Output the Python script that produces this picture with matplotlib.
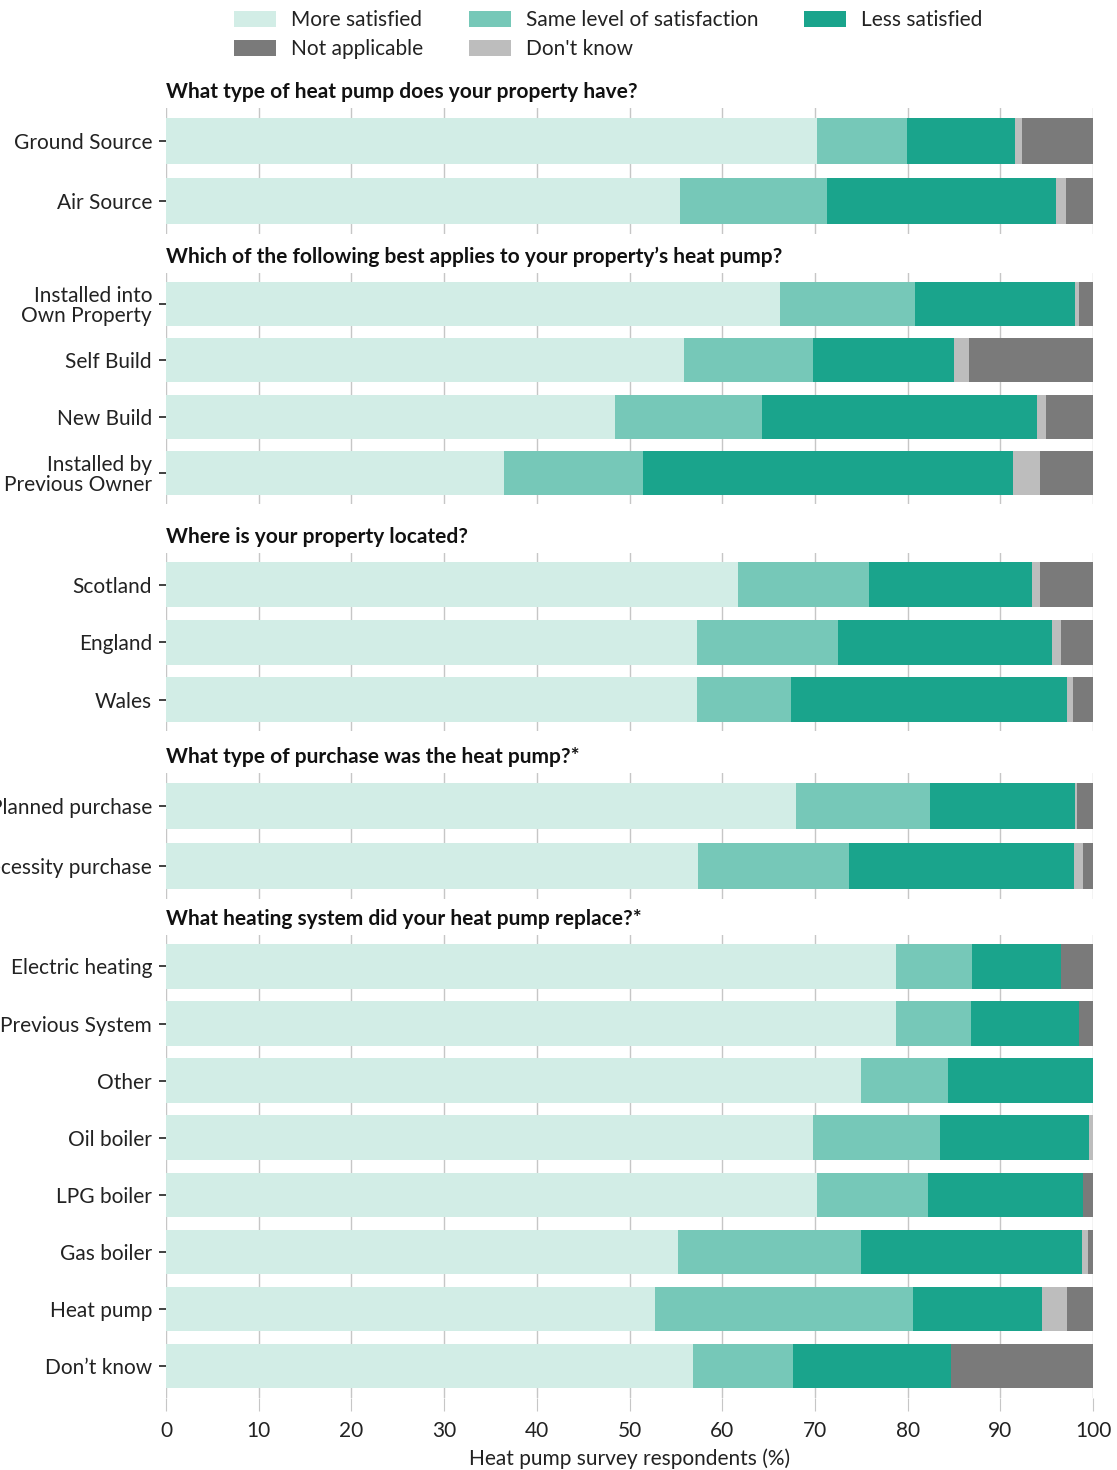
import matplotlib
matplotlib.use("Agg")
import matplotlib.pyplot as plt
from matplotlib.patches import Patch

plt.rcParams["font.family"] = ["Lato", "DejaVu Sans"]

# -------------------------------
# Data (% of respondents)
# -------------------------------
series = ["More satisfied", "Same level of satisfaction", "Less satisfied",
          "Don't know", "Not applicable"]
colors = {
    "More satisfied": "#d2ede6",
    "Same level of satisfaction": "#76c8b8",
    "Less satisfied": "#1aa48c",
    "Don't know": "#bdbdbd",
    "Not applicable": "#7a7a7a",
}

q1_title = "What type of heat pump does your property have?"
q1_labels = ["Ground Source", "Air Source"]
q1_more = [70.2, 55.4]
q1_same = [9.7, 15.9]
q1_less = [11.7, 24.7]
q1_dk = [0.7, 1.1]
q1_na = [7.7, 2.9]

q2_title = "Which of the following best applies to your property\u2019s heat pump?"
q2_labels = ["Installed into\nOwn Property", "Self Build", "New Build",
             "Installed by\nPrevious Owner"]
q2_more = [66.2, 55.9, 48.4, 36.5]
q2_same = [14.6, 13.9, 15.9, 15.0]
q2_less = [17.3, 15.2, 29.7, 39.9]
q2_dk = [0.4, 1.6, 0.9, 2.9]
q2_na = [1.5, 13.4, 5.1, 5.7]

q3_title = "Where is your property located?"
q3_labels = ["Scotland", "England", "Wales"]
q3_more = [61.7, 57.3, 57.3]
q3_same = [14.1, 15.2, 10.1]
q3_less = [17.6, 23.1, 29.8]
q3_dk = [0.9, 0.9, 0.6]
q3_na = [5.7, 3.5, 2.2]

q4_title = "What type of purchase was the heat pump?*"
q4_labels = ["Planned purchase", "Necessity purchase"]
q4_more = [68.0, 57.4]
q4_same = [14.4, 16.3]
q4_less = [15.7, 24.2]
q4_dk = [0.2, 1.0]
q4_na = [1.7, 1.1]

q5_title = "What heating system did your heat pump replace?*"
q5_labels = ["Electric heating", "No Previous System", "Other", "Oil boiler",
             "LPG boiler", "Gas boiler", "Heat pump", "Don\u2019t know"]
q5_more = [78.7, 78.7, 75.0, 69.8, 70.2, 55.2, 52.8, 56.9]
q5_same = [8.2, 8.1, 9.4, 13.7, 12.0, 19.8, 27.8, 10.7]
q5_less = [9.6, 11.7, 15.6, 16.1, 16.7, 23.8, 13.9, 17.1]
q5_dk = [0.0, 0.0, 0.0, 0.4, 0.0, 0.7, 2.7, 0.0]
q5_na = [3.5, 1.5, 0.0, 0.0, 1.1, 0.5, 2.8, 15.3]

panels = [
    (q1_title, q1_labels, [q1_more, q1_same, q1_less, q1_dk, q1_na]),
    (q2_title, q2_labels, [q2_more, q2_same, q2_less, q2_dk, q2_na]),
    (q3_title, q3_labels, [q3_more, q3_same, q3_less, q3_dk, q3_na]),
    (q4_title, q4_labels, [q4_more, q4_same, q4_less, q4_dk, q4_na]),
    (q5_title, q5_labels, [q5_more, q5_same, q5_less, q5_dk, q5_na]),
]

# -------------------------------
# Layout (pixels)
# -------------------------------
W, H = 1117, 1470
ax_left, ax_right = 166, 1093
panel_tops = [108, 273, 553, 773, 935]
panel_steps = [60, 56.3, 57.5, 60, 57.1]
grid_col = "#c6c6c6"
fs = 15

fig = plt.figure(figsize=(W / 100, H / 100), dpi=100)

axes = []
for (title, labels, vals), top, step in zip(panels, panel_tops, panel_steps):
    n = len(labels)
    h = (n + 0.1) * step
    ax = fig.add_axes([ax_left / W, 1 - (top + h) / H,
                       (ax_right - ax_left) / W, h / H])
    left = [0.0] * n
    for name, v in zip(series, vals):
        ax.barh(range(n), v, left=left, height=0.78, color=colors[name],
                linewidth=0, zorder=2)
        left = [a + b for a, b in zip(left, v)]
    ax.set_xlim(0, 100)
    ax.set_ylim(n - 0.45, -0.55)
    ax.set_xticks(range(0, 101, 10))
    ax.set_yticks(range(n))
    ax.set_yticklabels(labels, fontsize=fs, color="#222222",
                       multialignment="right", linespacing=1.0)
    ax.grid(axis="x", color=grid_col, linewidth=1, zorder=0)
    for s in ax.spines.values():
        s.set_visible(False)
    ax.tick_params(axis="y", length=5, width=1.3, color="#333333", pad=5)
    ax.tick_params(axis="x", length=0, labelbottom=False)
    ax.set_title(title, loc="left", fontsize=fs, fontweight="bold",
                 color="#111111", pad=7)
    axes.append(ax)

# x axis on the last panel only
ax = axes[-1]
ax.tick_params(axis="x", length=9, color=grid_col, labelbottom=True,
               labelsize=fs, labelcolor="#222222", pad=8)
ax.set_xlabel("Heat pump survey respondents (%)", fontsize=fs,
              color="#222222", labelpad=5)

# -------------------------------
# Legend
# -------------------------------
order = ["More satisfied", "Not applicable", "Same level of satisfaction",
         "Don't know", "Less satisfied"]
handles = [Patch(facecolor=colors[k], edgecolor="none", label=k) for k in order]
fig.legend(handles=handles, ncol=3, loc="upper left",
           bbox_to_anchor=(226 / W, 1 - 2 / H), frameon=False,
           borderaxespad=0, fontsize=fs, handlelength=2.0, handleheight=0.8,
           handletextpad=0.72, columnspacing=2.2, labelspacing=0.42,
           labelcolor="#222222")

fig.savefig("out.png", dpi=100)
plt.close()
